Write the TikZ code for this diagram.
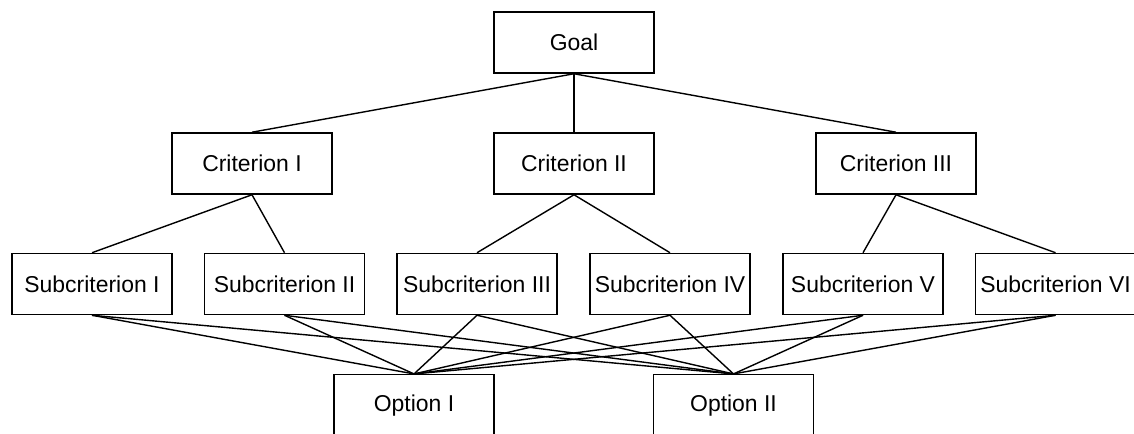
\documentclass[tikz,border=0pt]{standalone}
\usepackage{fontspec}
\setmainfont{Liberation Sans}
\usetikzlibrary{positioning}

\begin{document}
\begin{tikzpicture}[
	font=\fontsize{17.2pt}{20pt}\selectfont,
	x=0.75pt, y=-0.75pt,
	level/.style={
		draw,
		line width=1.15pt,
		minimum height=45.75pt,
		minimum width=120pt,
		inner sep=0.5pt,
		align=center,
	},
	link/.style={line width=1.05pt},
]

\useasboundingbox (0,0) rectangle (1134,434);

% --- Goal ---
\node[level] (goal) at (574,42.5) {Goal};

% --- Criteria ---
\node[level] (c1) at (252,163.5) {Criterion I};
\node[level] (c2) at (574,163.5) {Criterion II};
\node[level] (c3) at (896,163.5) {Criterion III};

% --- Subcriteria ---
\node[level] (s1) at (92,284)     {Subcriterion I};
\node[level] (s2) at (284.5,284)  {Subcriterion II};
\node[level] (s3) at (477,284)    {Subcriterion III};
\node[level] (s4) at (670,284)    {Subcriterion IV};
\node[level] (s5) at (863,284)    {Subcriterion V};
\node[level] (s6) at (1055.5,284) {Subcriterion VI};

% --- Options ---
\node[level] (o1) at (414,405.2)   {Option I};
\node[level] (o2) at (733.5,405.2) {Option II};

% --- Links ---
\foreach \c in {c1,c2,c3}
	\draw[link] (goal.south) -- (\c.north);
\foreach \c/\s in {c1/s1,c1/s2,c2/s3,c2/s4,c3/s5,c3/s6}
	\draw[link] (\c.south) -- (\s.north);
\foreach \s in {s1,s2,s3,s4,s5,s6}
	\foreach \o in {o1,o2}
		\draw[link] (\s.south) -- (\o.north);

\end{tikzpicture}
\end{document}
